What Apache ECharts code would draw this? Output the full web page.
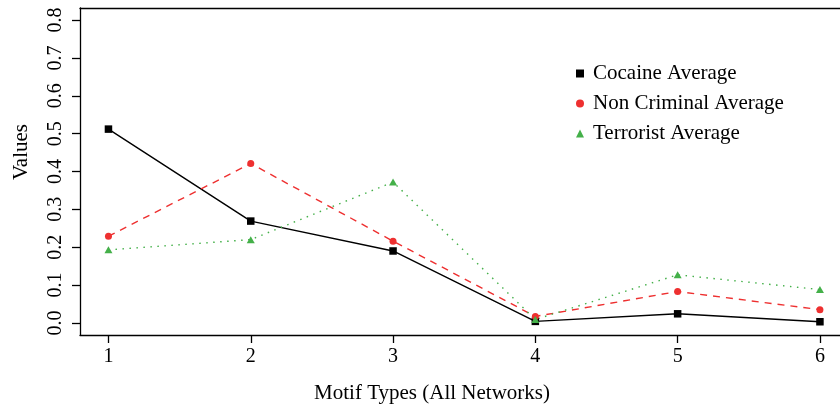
<!DOCTYPE html>
<html>
<head>
<meta charset="utf-8">
<script src="https://cdn.jsdelivr.net/npm/echarts@6/dist/echarts.min.js"></script>
<style>html,body{margin:0;padding:0;background:#fff}#c{width:840px;height:409px}</style>
</head>
<body>
<div id="c"></div>
<script>
const motifTypes = [1, 2, 3, 4, 5, 6];
const cocaineAverage = [0.512, 0.269, 0.190, 0.004, 0.024, 0.003];
const nonCriminalAverage = [0.229, 0.421, 0.216, 0.017, 0.083, 0.035];
const terroristAverage = [0.193, 0.220, 0.372, 0.009, 0.127, 0.088];
const yTicks = [0, 0.1, 0.2, 0.3, 0.4, 0.5, 0.6, 0.7, 0.8];
const seriesNames = ['Cocaine Average', 'Non Criminal Average', 'Terrorist Average'];

const FONT = 'Liberation Serif';
const pairs = arr => motifTypes.map((x, i) => [x, arr[i]]);

const chart = echarts.init(document.getElementById('c'), null, {renderer: 'canvas'});
chart.setOption({
  animation: false,
  backgroundColor: '#fff',
  grid: {left: 80, top: 8, right: 0, bottom: 74, containLabel: false},
  xAxis: [{
    type: 'value', min: 0.8, max: 6.141, position: 'bottom',
    axisLine: {show: true, onZero: false, lineStyle: {color: '#000', width: 1.3}},
    axisTick: {show: true, length: 8, customValues: motifTypes, lineStyle: {color: '#000', width: 1.3}},
    axisLabel: {customValues: motifTypes, fontFamily: FONT, fontSize: 20, color: '#000', margin: 12},
    splitLine: {show: false}
  }, {
    type: 'value', min: 0.8, max: 6.141, position: 'top',
    axisLine: {show: true, onZero: false, lineStyle: {color: '#000', width: 1.3}},
    axisTick: {show: false}, axisLabel: {show: false}, splitLine: {show: false}
  }],
  yAxis: {
    type: 'value', min: -0.032, max: 0.832,
    axisLine: {show: true, onZero: false, lineStyle: {color: '#000', width: 1.3}},
    axisTick: {show: true, length: 8, customValues: yTicks, lineStyle: {color: '#000', width: 1.3}},
    axisLabel: {customValues: yTicks, rotate: 90, formatter: v => v.toFixed(1),
      fontFamily: FONT, fontSize: 20, color: '#000', margin: 14},
    splitLine: {show: false}
  },
  legend: {
    left: 571, top: 58, orient: 'vertical',
    itemWidth: 8, itemHeight: 8, itemGap: 9,
    textStyle: {fontFamily: FONT, fontSize: 21, color: '#000', lineHeight: 21, padding: [0, 0, 0, 4]},
    data: [
      {name: seriesNames[0], icon: 'rect'},
      {name: seriesNames[1], icon: 'circle'},
      {name: seriesNames[2], icon: 'triangle'}
    ]
  },
  graphic: [
    {type: 'text', x: 21, y: 152, rotation: Math.PI / 2,
      style: {text: 'Values', fontFamily: FONT, fontSize: 21, fill: '#000', align: 'center', verticalAlign: 'middle'}},
    {type: 'text', x: 432, y: 393,
      style: {text: 'Motif Types (All Networks)', fontFamily: FONT, fontSize: 21, fill: '#000', align: 'center', verticalAlign: 'middle'}}
  ],
  series: [
    {name: seriesNames[0], type: 'line', data: pairs(cocaineAverage),
      symbol: 'rect', symbolSize: 7.5, showAllSymbol: true,
      lineStyle: {color: '#000', width: 1.4, type: 'solid'},
      itemStyle: {color: '#000', borderWidth: 0}},
    {name: seriesNames[1], type: 'line', data: pairs(nonCriminalAverage),
      symbol: 'circle', symbolSize: 7, showAllSymbol: true,
      lineStyle: {color: '#EE3030', width: 1.4, type: [7, 6]},
      itemStyle: {color: '#EE3030', borderWidth: 0}},
    {name: seriesNames[2], type: 'line', data: pairs(terroristAverage),
      symbol: 'triangle', symbolSize: [8, 7], showAllSymbol: true,
      lineStyle: {color: '#44B049', width: 1.4, type: [1.5, 5.5]},
      itemStyle: {color: '#44B049', borderWidth: 0}}
  ]
});
</script>
</body>
</html>
